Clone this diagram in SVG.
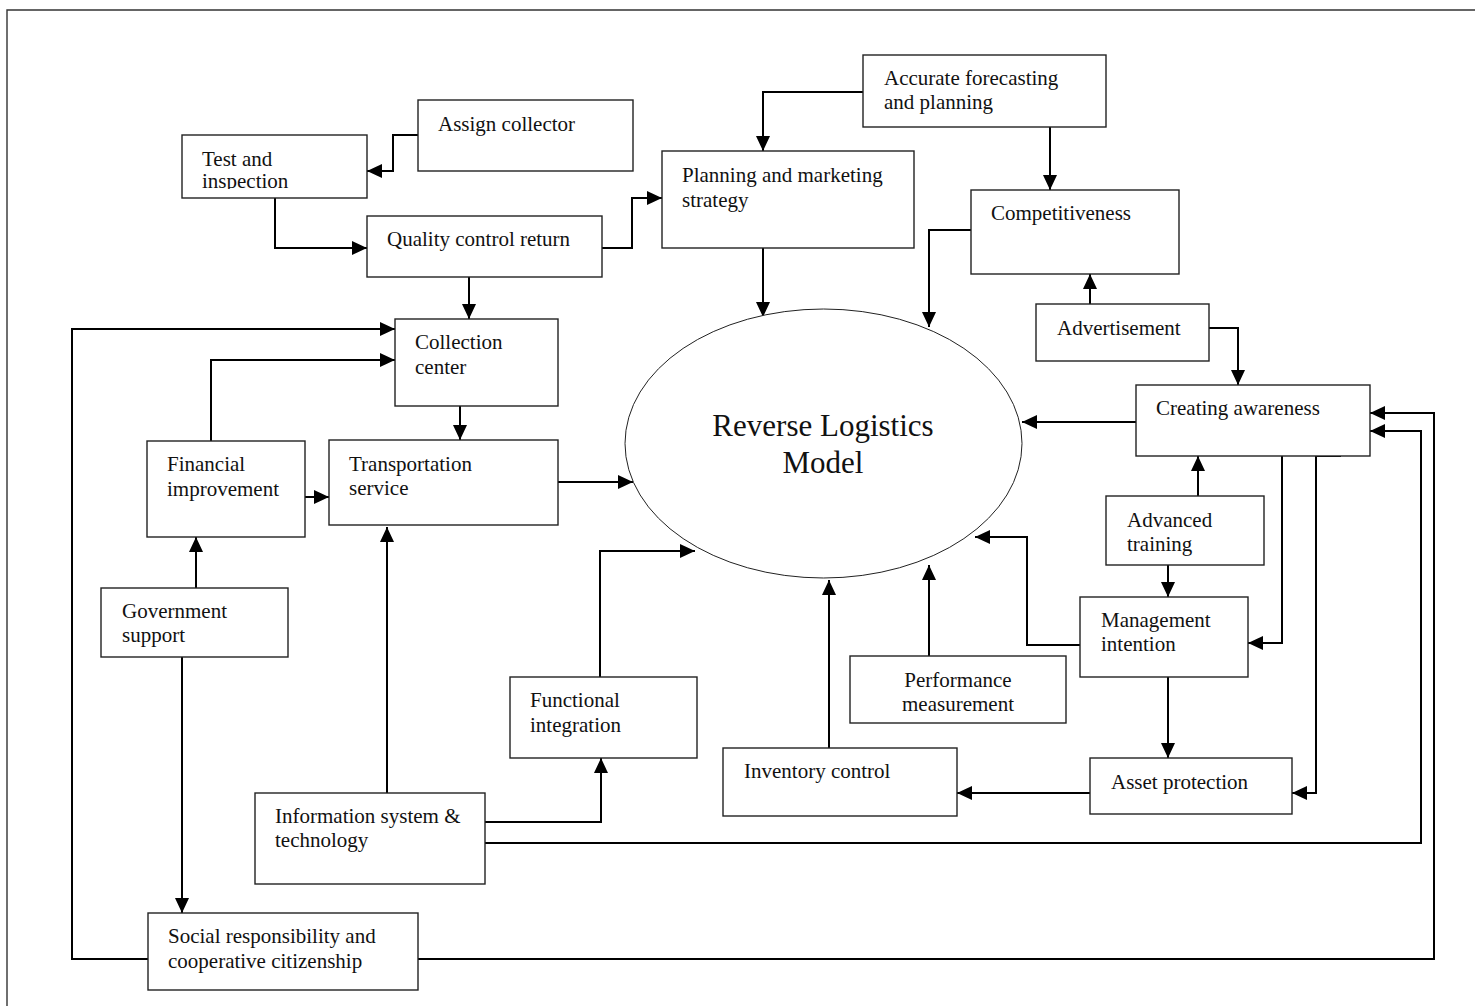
<svg xmlns="http://www.w3.org/2000/svg" width="1475" height="1006" viewBox="0 0 1475 1006">
<style>
  .box{fill:#fff;stroke:#222;stroke-width:1.4}
  .t{font-family:"Liberation Serif","Times New Roman",serif;font-size:21px;fill:#111}
  .big{font-family:"Liberation Serif","Times New Roman",serif;font-size:31px;fill:#111;text-anchor:middle}
  .c{fill:none;stroke:#000;stroke-width:2}
  .a{marker-end:url(#arr)}
</style>
<defs>
  <marker id="arr" markerUnits="userSpaceOnUse" markerWidth="15" markerHeight="14" refX="15" refY="7" orient="auto">
    <path d="M0,0 L15,7 L0,14 z" fill="#000"/>
  </marker>
  <clipPath id="clipTest"><rect x="182" y="135" width="185" height="54"/></clipPath>
</defs>
<rect width="1475" height="1006" fill="#fff"/>
<path d="M7,1006 V10 H1475" fill="none" stroke="#333" stroke-width="1.4"/>

<g id="connectors">
  <path class="c a" d="M418,135 H393 V171 H367"/>
  <path class="c a" d="M275,198 V248 H367"/>
  <path class="c a" d="M602,248 H632 V198 H662"/>
  <path class="c a" d="M863,92 H763 V151"/>
  <path class="c a" d="M1050,127 V190"/>
  <path class="c a" d="M763,248 V317"/>
  <path class="c a" d="M973,230 H929 V327"/>
  <path class="c a" d="M1090,304 V274"/>
  <path class="c a" d="M1209,328 H1238 V385"/>
  <path class="c a" d="M469,277 V319"/>
  <path class="c a" d="M460,406 V440"/>
  <path class="c a" d="M148,959 H72 V329 H395"/>
  <path class="c a" d="M211,441 V360 H395"/>
  <path class="c a" d="M305,497 H329"/>
  <path class="c a" d="M196,588 V537"/>
  <path class="c a" d="M182,657 V913"/>
  <path class="c a" d="M387,793 V527"/>
  <path class="c a" d="M558,482 H633"/>
  <path class="c a" d="M485,822 H601 V758"/>
  <path class="c a" d="M600,677 V551 H695"/>
  <path class="c a" d="M829,748 V580"/>
  <path class="c a" d="M929,656 V565"/>
  <path class="c a" d="M1080,645 H1027 V537 H975"/>
  <path class="c a" d="M1136,422 H1022"/>
  <path class="c a" d="M1198,496 V456"/>
  <path class="c a" d="M1168,565 V597"/>
  <path class="c a" d="M1282,456 V643 H1248"/>
  <path class="c a" d="M1341,456 H1316 V793 H1292"/>
  <path class="c a" d="M1168,677 V758"/>
  <path class="c a" d="M1090,793 H957"/>
  <path class="c a" d="M418,959 H1434 V413 H1370"/>
  <path class="c a" d="M485,843 H1421 V431 H1370"/>
</g>

<g id="assign-collector"><rect class="box" x="418" y="100" width="215" height="71"/><text class="t" x="438" y="131">Assign collector</text></g>
<g id="test-inspection"><rect class="box" x="182" y="135" width="185" height="63"/><text class="t" x="202" y="166">Test and</text><text class="t" x="202" y="188" clip-path="url(#clipTest)">inspection</text></g>
<g id="quality-control"><rect class="box" x="367" y="216" width="235" height="61"/><text class="t" x="387" y="246">Quality control return</text></g>
<g id="accurate-forecasting"><rect class="box" x="863" y="55" width="243" height="72"/><text class="t" x="884" y="85">Accurate forecasting</text><text class="t" x="884" y="109">and planning</text></g>
<g id="planning-marketing"><rect class="box" x="662" y="151" width="252" height="97"/><text class="t" x="682" y="182">Planning and marketing</text><text class="t" x="682" y="207">strategy</text></g>
<g id="competitiveness"><rect class="box" x="971" y="190" width="208" height="84"/><text class="t" x="991" y="220">Competitiveness</text></g>
<g id="advertisement"><rect class="box" x="1036" y="304" width="173" height="57"/><text class="t" x="1057" y="335">Advertisement</text></g>
<g id="collection-center"><rect class="box" x="395" y="319" width="163" height="87"/><text class="t" x="415" y="349">Collection</text><text class="t" x="415" y="374">center</text></g>
<g id="financial-improvement"><rect class="box" x="147" y="441" width="158" height="96"/><text class="t" x="167" y="471">Financial</text><text class="t" x="167" y="496">improvement</text></g>
<g id="transportation-service"><rect class="box" x="329" y="440" width="229" height="85"/><text class="t" x="349" y="471">Transportation</text><text class="t" x="349" y="495">service</text></g>
<g id="reverse-logistics-model"><ellipse cx="823.5" cy="443.5" rx="198.5" ry="134.5" fill="#fff" stroke="#222" stroke-width="1"/><text class="big" x="823" y="436">Reverse Logistics</text><text class="big" x="823" y="473">Model</text></g>
<g id="creating-awareness"><rect class="box" x="1136" y="385" width="234" height="71"/><text class="t" x="1156" y="415">Creating awareness</text></g>
<g id="advanced-training"><rect class="box" x="1106" y="496" width="158" height="69"/><text class="t" x="1127" y="527">Advanced</text><text class="t" x="1127" y="551">training</text></g>
<g id="government-support"><rect class="box" x="101" y="588" width="187" height="69"/><text class="t" x="122" y="618">Government</text><text class="t" x="122" y="642">support</text></g>
<g id="management-intention"><rect class="box" x="1080" y="597" width="168" height="80"/><text class="t" x="1101" y="627">Management</text><text class="t" x="1101" y="651">intention</text></g>
<g id="performance-measurement"><rect class="box" x="850" y="656" width="216" height="67"/><text class="t" x="958" y="687" text-anchor="middle">Performance</text><text class="t" x="958" y="711" text-anchor="middle">measurement</text></g>
<g id="functional-integration"><rect class="box" x="510" y="677" width="187" height="81"/><text class="t" x="530" y="707">Functional</text><text class="t" x="530" y="732">integration</text></g>
<g id="inventory-control"><rect class="box" x="723" y="748" width="234" height="68"/><text class="t" x="744" y="778">Inventory control</text></g>
<g id="asset-protection"><rect class="box" x="1090" y="758" width="202" height="56"/><text class="t" x="1111" y="789">Asset protection</text></g>
<g id="information-system"><rect class="box" x="255" y="793" width="230" height="91"/><text class="t" x="275" y="823">Information system &amp;</text><text class="t" x="275" y="847">technology</text></g>
<g id="social-responsibility"><rect class="box" x="148" y="913" width="270" height="77"/><text class="t" x="168" y="943">Social responsibility and</text><text class="t" x="168" y="968">cooperative citizenship</text></g>
</svg>
